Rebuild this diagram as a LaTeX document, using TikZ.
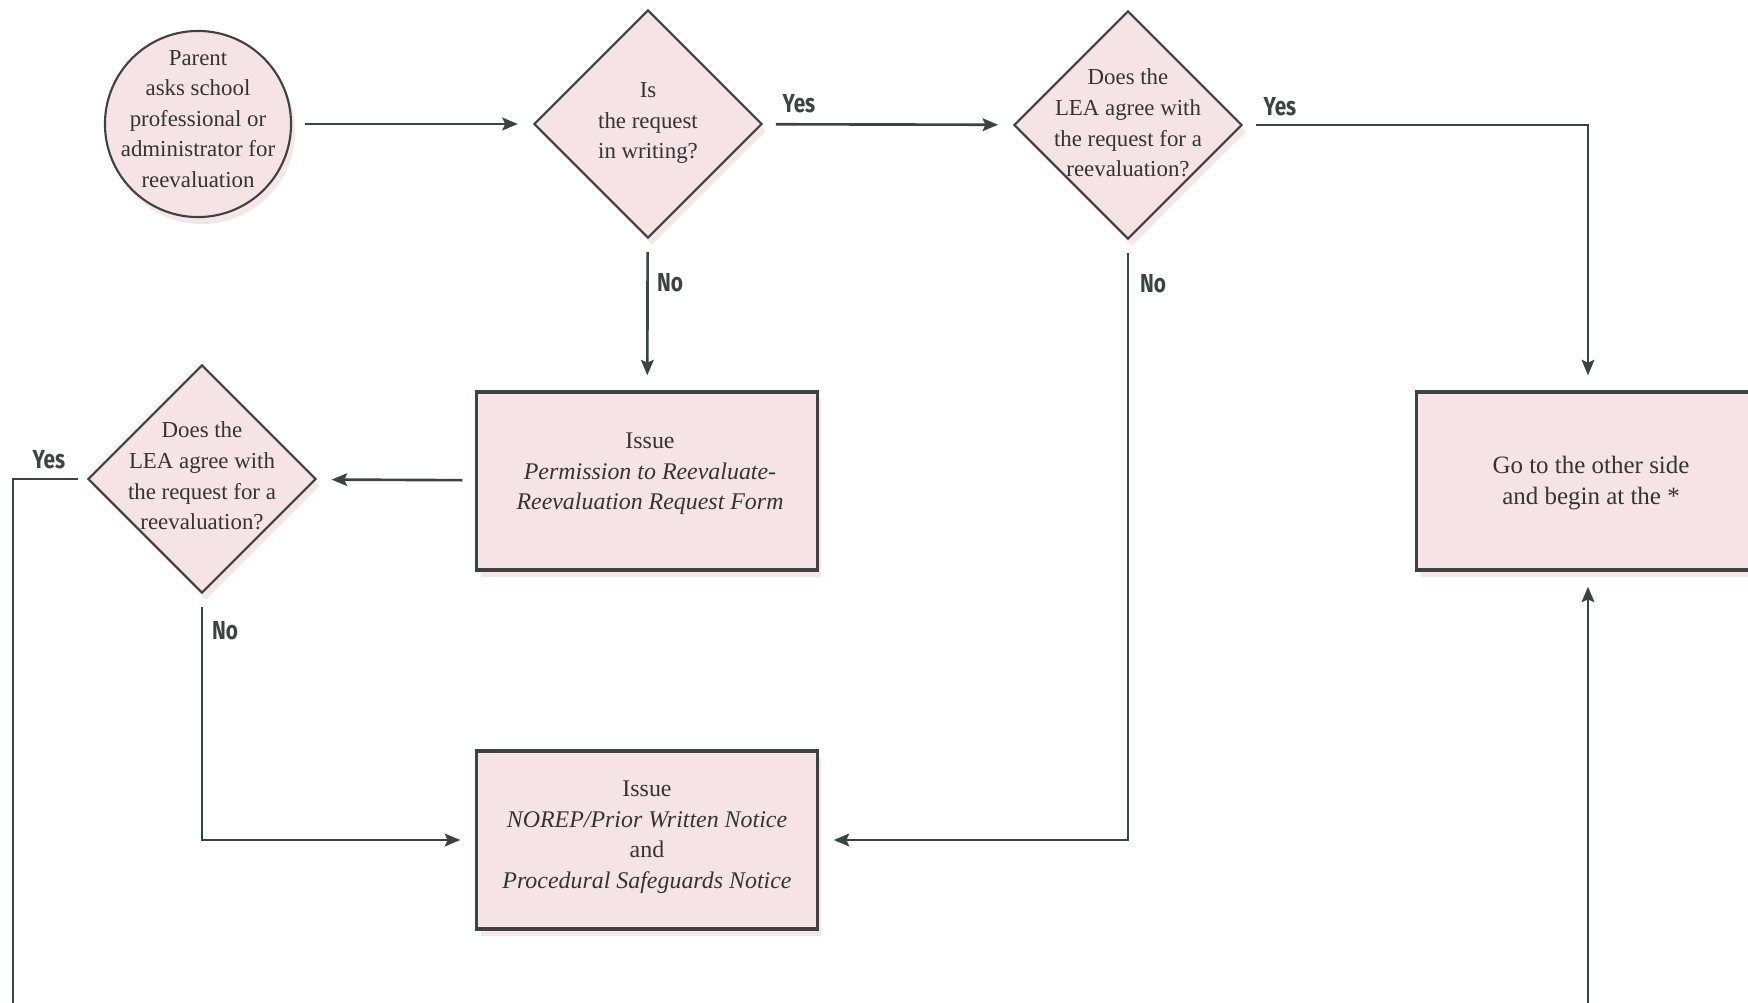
\documentclass[tikz,border=0pt]{standalone}
\usepackage{fontspec}
\setmainfont{Liberation Serif}
\newfontfamily\answerfont[FakeStretch=0.8]{Fira Sans}
\usepackage{xcolor}
\definecolor{Col1}{RGB}{61,66,66}
\definecolor{Col2}{RGB}{246,227,229}
\definecolor{Col3}{RGB}{52,52,52}
\definecolor{Col4}{RGB}{236,190,196}
\usepackage{tikz}
\usetikzlibrary{shapes.geometric}
\usetikzlibrary{shadows}
\usetikzlibrary{arrows.meta}
\tikzstyle{Glow}=[drop shadow={shadow xshift=.4mm,shadow yshift=-.7mm,
fill=Col4,opacity=.4}]
\tikzstyle{Start}=[circle,draw=Col1,fill=Col2,line width=.6pt,
minimum size=1.86cm,inner sep=0pt,Glow]
\tikzstyle{Question}=[diamond,draw=Col1,fill=Col2,line width=.6pt,
minimum width=2.28cm,minimum height=2.28cm,inner sep=0pt,Glow]
\tikzstyle{Task}=[rectangle,draw=Col1,fill=Col2,line width=.9pt,
minimum width=3.4cm,minimum height=1.78cm,inner sep=0pt,Glow]
\tikzstyle{NodeText}=[align=center,inner sep=0pt,text=Col3,
font=\fontsize{6.5}{8.7}\selectfont]
\tikzstyle{TaskText}=[NodeText,font=\fontsize{6.8}{8.7}\selectfont]
\tikzstyle{Answer}=[inner sep=0pt,text=Col1,
font=\answerfont\bfseries\fontsize{7.4}{8}\selectfont]
\tikzstyle{Edge}=[draw=Col1,line width=.75pt,
-{Stealth[length=4.4pt,width=3.6pt,inset=.8pt]},
shorten <=.13cm,shorten >=.15cm]

\begin{document}
\begin{tikzpicture}[x=0.01cm,y=-0.01cm]
        \useasboundingbox(0,0)rectangle(1748,1002);
        \fill[white](0,0)rectangle(1748,1002);
        % shapes
        \node[Start](c0)at(198,124){};
        \node[Question](d1)at(648,124){};
        \node[Question](d2)at(1128,125){};
        \node[Question](d3)at(202,479){};
        \node[Task](b1)at(647,481){};
        \node[Task](b2)at(647,840){};
        \node[Task,minimum width=3.42cm](b3)at(1588,481){};
        % texts
        \node[NodeText](c0t)at(198,119){Parent\\asks school\\professional or\\administrator for\\reevaluation};
        \node[NodeText](d1t)at(648,123){Is\\the request\\in writing?};
        \node[NodeText](d2t)at(1128,123){Does the\\LEA agree with\\the request for a\\reevaluation?};
        \node[NodeText](d3t)at(202,476){Does the\\LEA agree with\\the request for a\\reevaluation?};
        \node[TaskText](b1t)at(650,474){Issue\\\textit{Permission to Reevaluate-}\\\textit{Reevaluation Request Form}};
        \node[TaskText](b2t)at(647,837){Issue\\\textit{NOREP/Prior Written Notice}\\and\\\textit{Procedural Safeguards Notice}};
        \node[NodeText,font=\fontsize{7.1}{8.6}\selectfont](b3t)at(1591,483){Go to the other side\\and begin at the *};
        % answers
        \node[Answer](y1)at(799,104){Yes};
        \node[Answer](y2)at(1280,107){Yes};
        \node[Answer](y3)at(49,460){Yes};
        \node[Answer](n1)at(670,283){No};
        \node[Answer](n2)at(1153,284){No};
        \node[Answer](n3)at(225,631){No};
        % flow
        \coordinate(low)at(13,1080);
        \draw[Edge](c0)--(d1);
        \draw[Edge](d1)--(d2);
        \draw[Edge](d1)--(b1);
        \draw[Edge](d2.east)-|(b3.north);
        \draw[Edge](b1)--(d3);
        \draw[Edge](d3.south)|-(b2.west);
        \draw[Edge](d2.south)|-(b2.east);
        \draw[Edge,shorten <=.09cm](d3.west)-|(low)-|(b3.south);
    \end{tikzpicture}
\end{document}
